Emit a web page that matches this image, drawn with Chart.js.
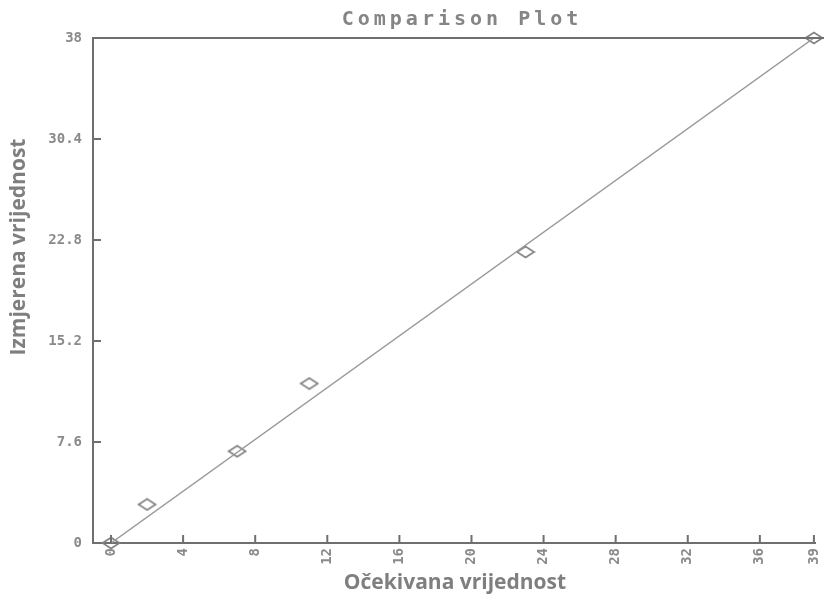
<!DOCTYPE html>
<html lang="en">
<head>
    <meta charset="UTF-8">
    <title>Comparison Plot</title>
    <script src="https://cdn.jsdelivr.net/npm/chart.js"></script>
    <style>
        html, body { margin: 0; padding: 0; background: #ffffff; }
        .wrap { width: 824px; height: 603px; position: relative; }
    </style>
</head>
<body>
<div class="wrap"><canvas id="cmpChart" width="824" height="603"></canvas></div>
<script>
    // values
    const expected = [0, 2, 7, 11, 23, 39];
    const measured = [0, 2.9, 6.9, 12.0, 21.9, 38];
    const fitX = [0, 39];
    const fitY = [0, 38];
    const xTicks = [0, 4, 8, 12, 16, 20, 24, 28, 32, 36, 39];
    const yTicks = [0, 7.6, 15.2, 22.8, 30.4, 38];

    const titleText = 'Comparison Plot';
    const xTitle = 'Očekivana vrijednost';
    const yTitle = 'Izmjerena vrijednost';

    const axisColor = '#6f6f6f';
    const labelColor = '#8a8a8a';

    // flattened diamond marker
    const marker = document.createElement('canvas');
    marker.width = 20; marker.height = 14;
    const mc = marker.getContext('2d');
    mc.strokeStyle = '#808080';
    mc.lineWidth = 1.6;
    mc.beginPath();
    mc.moveTo(1.5, 7); mc.lineTo(10, 1.5); mc.lineTo(18.5, 7); mc.lineTo(10, 12.5);
    mc.closePath();
    mc.stroke();

    // inward tick marks, top border, titles
    const decor = {
        id: 'decor',
        afterDraw(chart) {
            const ctx = chart.ctx;
            const a = chart.chartArea;
            const xs = chart.scales.x, ys = chart.scales.y;
            ctx.save();
            ctx.strokeStyle = axisColor;
            ctx.lineWidth = 2;
            ctx.beginPath();
            ctx.moveTo(a.left, a.top); ctx.lineTo(chart.width, a.top);
            xs.ticks.forEach(t => {
                const px = xs.getPixelForValue(t.value);
                ctx.moveTo(px, a.bottom); ctx.lineTo(px, a.bottom - 8);
            });
            ys.ticks.forEach(t => {
                const py = ys.getPixelForValue(t.value);
                ctx.moveTo(a.left, py); ctx.lineTo(a.left + 8, py);
            });
            ctx.stroke();

            ctx.fillStyle = '#858585';
            ctx.font = 'bold 20px "DejaVu Sans Mono"';
            ctx.textAlign = 'center';
            ctx.textBaseline = 'middle';
            ctx.letterSpacing = '4px';
            ctx.fillText(titleText, 462, 20);
            ctx.letterSpacing = '0px';

            ctx.fillStyle = '#7f7f7f';
            ctx.font = 'bold 21px "Open Sans"';
            ctx.fillText(xTitle, 455, 583);
            ctx.translate(19, 247);
            ctx.rotate(-Math.PI / 2);
            ctx.fillText(yTitle, 0, 0);
            ctx.restore();
        }
    };

    const tickFont = { family: '"DejaVu Sans Mono"', size: 14, weight: 'bold' };

    new Chart(document.getElementById('cmpChart'), {
        type: 'scatter',
        data: {
            datasets: [{
                type: 'line',
                data: fitX.map((x, i) => ({ x: x, y: fitY[i] })),
                borderColor: '#9a9a9a',
                borderWidth: 1.5,
                pointRadius: 0,
                fill: false
            }, {
                data: expected.map((x, i) => ({ x: x, y: measured[i] })),
                pointStyle: marker,
                pointRadius: 8,
                clip: false
            }]
        },
        options: {
            responsive: false,
            animation: false,
            devicePixelRatio: 1,
            layout: { padding: { top: 38, right: 0, left: 0, bottom: 0 } },
            plugins: { legend: { display: false }, tooltip: { enabled: false } },
            scales: {
                x: {
                    type: 'linear',
                    min: -1,
                    max: 39.06,
                    afterBuildTicks: s => { s.ticks = xTicks.map(v => ({ value: v })); },
                    afterFit: s => { s.height = 60; s.paddingLeft = 0; s.paddingRight = 0; },
                    grid: { display: false, drawTicks: false },
                    border: { display: true, color: axisColor, width: 2 },
                    ticks: {
                        autoSkip: false,
                        minRotation: 90, maxRotation: 90, padding: 5,
                        color: labelColor, font: tickFont,
                        callback: v => String(v)
                    }
                },
                y: {
                    type: 'linear',
                    min: 0,
                    max: 38,
                    afterBuildTicks: s => { s.ticks = yTicks.map(v => ({ value: v })); },
                    afterFit: s => { s.width = 93; },
                    grid: { display: false, drawTicks: false },
                    border: { display: true, color: axisColor, width: 2 },
                    ticks: {
                        autoSkip: false,
                        padding: 11, color: labelColor, font: tickFont,
                        callback: v => String(v)
                    }
                }
            }
        },
        plugins: [decor]
    });
</script>
</body>
</html>
